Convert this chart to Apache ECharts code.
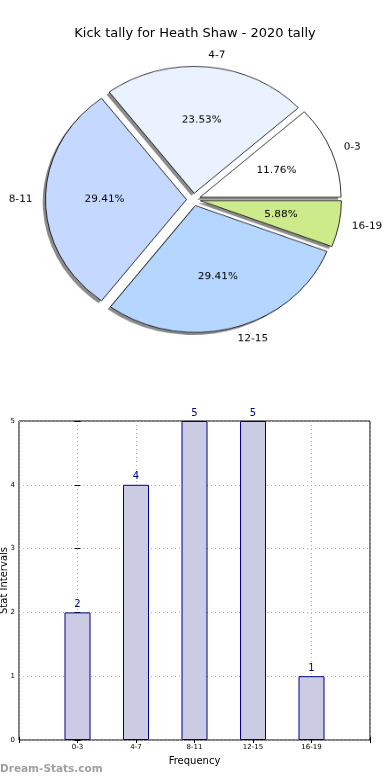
<!DOCTYPE html>
<html><head><meta charset="utf-8">
<script src="https://cdn.jsdelivr.net/npm/echarts@6/dist/echarts.min.js"></script>
<style>
html,body{margin:0;padding:0;background:#fff}
#wrap{position:relative;width:390px;height:780px;overflow:hidden}
#c{position:absolute;left:0;top:0;width:390px;height:780px}
#p{position:absolute;left:0;top:0;width:390px;height:400px;transform-origin:0 199.5px;transform:scaleY(0.9)}
</style>
</head><body><div id="wrap"><div id="c"></div><div id="p"></div></div>
<script>
var categories = ['0-3', '4-7', '8-11', '12-15', '16-19'];
var counts = [2, 4, 5, 5, 1];
var sliceColors = ['#ffffff', '#eaf1ff', '#c5d8ff', '#b4d6ff', '#cdeb8b'];
var yTicks = [0, 1, 2, 3, 4, 5];
var titleText = 'Kick tally for Heath Shaw - 2020 tally';

var total = counts.reduce(function(a, b){ return a + b; }, 0);
var F = 'DejaVu Sans';
var R = 141;
var CX = 193.5, CY = 199.5;

function pieData(withStyle) {
  return categories.map(function(c, i){
    var d = { name: c, value: counts[i], selected: true };
    if (withStyle) d.itemStyle = { color: sliceColors[i] };
    return d;
  });
}

var common = {
  type: 'pie', center: [CX, CY], radius: [0, R], startAngle: 0, clockwise: false,
  selectedMode: 'multiple', selectedOffset: 7, avoidLabelOverlap: false,
  animation: false, emphasis: { disabled: true }, labelLine: { show: false }
};

var pie = echarts.init(document.getElementById('p'), null, { renderer: 'canvas' });
pie.setOption({
  animation: false,
  series: [
    Object.assign({}, common, {
      center: [CX - 2.8, CY + 2.8], data: pieData(false), silent: true,
      itemStyle: { color: 'rgba(0,0,0,0.45)', borderWidth: 0 }, label: { show: false }
    }),
    Object.assign({}, common, {
      data: pieData(true), silent: true, label: { show: false },
      itemStyle: { borderColor: '#000', borderWidth: 0.8 }
    }),
    Object.assign({}, common, {
      radius: [R * 0.12, R], data: pieData(false), silent: true,
      itemStyle: { color: 'transparent', borderWidth: 0 },
      label: { show: true, position: 'inside', fontFamily: F, fontSize: 10.5, color: '#000',
        formatter: function(p){ return (p.value / total * 100).toFixed(2) + '%'; } }
    }),
    Object.assign({}, common, {
      data: pieData(false), silent: true,
      itemStyle: { color: 'transparent', borderWidth: 0 },
      label: { show: true, position: 'outside', fontFamily: F, fontSize: 10.5, color: '#000', formatter: '{b}', distanceToLabelLine: 0 },
      labelLine: { show: false, length: 13, length2: 0 }
    })
  ]
});

var tickOnly = {
  type: 'value', min: -1, max: 5, interval: 1,
  axisLine: { show: false }, axisLabel: { show: false }, splitLine: { show: false },
  axisTick: { show: true, inside: true, length: 3, lineStyle: { color: '#000' } }
};

var chart = echarts.init(document.getElementById('c'), null, { renderer: 'canvas' });
chart.setOption({
  animation: false,
  title: { text: titleText, left: 'center', top: 22, textStyle: { fontFamily: F, fontSize: 13, fontWeight: 'normal', color: '#000' } },
  graphic: [{ type: 'text', left: 0, top: 764, style: { text: 'Dream-Stats.com', font: 'bold 10.5px ' + F, fill: '#a0a0a0' } }],
  grid: { left: 19, right: 20, top: 421, bottom: 40, containLabel: false, outerBoundsMode: 'none',
    show: true, borderColor: '#000', borderWidth: 1, backgroundColor: '#fff' },
  xAxis: [{
    type: 'value', min: -1, max: 5, interval: 1,
    name: 'Frequency', nameLocation: 'middle', nameGap: 16, nameMoveOverlap: false,
    nameTextStyle: { fontFamily: F, fontSize: 10, color: '#000' },
    axisLine: { show: false },
    axisTick: { show: true, inside: true, length: 3, lineStyle: { color: '#000' } },
    axisLabel: { fontFamily: F, fontSize: 7, color: '#000', margin: 4,
      formatter: function(v){ return categories[v] !== undefined ? categories[v] : ''; } },
    splitLine: { show: true, lineStyle: { type: [1, 3], color: '#b0b0b0', width: 1 } }
  }, Object.assign({}, tickOnly, { position: 'top' })],
  yAxis: [{
    type: 'value', min: yTicks[0], max: yTicks[yTicks.length - 1], interval: 1,
    name: 'Stat Intervals', nameLocation: 'middle', nameGap: 10, nameMoveOverlap: false,
    nameTextStyle: { fontFamily: F, fontSize: 10, color: '#000' },
    axisLine: { show: false },
    axisTick: { show: true, inside: true, length: 3, lineStyle: { color: '#000' } },
    axisLabel: { fontFamily: F, fontSize: 7, color: '#000', margin: 4 },
    splitLine: { show: true, lineStyle: { type: [1, 3], color: '#b0b0b0', width: 1 } }
  }, Object.assign({}, tickOnly, { position: 'right', min: yTicks[0], max: yTicks[yTicks.length - 1] })],
  series: [
    {
      type: 'bar', barWidth: 26,
      data: counts.map(function(v, i){ return [i, v]; }),
      itemStyle: { color: '#cbcbe3', borderColor: '#000080', borderWidth: 1 },
      label: { show: true, position: 'top', distance: 3, fontFamily: F, fontSize: 10, color: '#000080',
        formatter: function(p){ return p.value[1]; } }
    }
  ]
});
</script></body></html>
